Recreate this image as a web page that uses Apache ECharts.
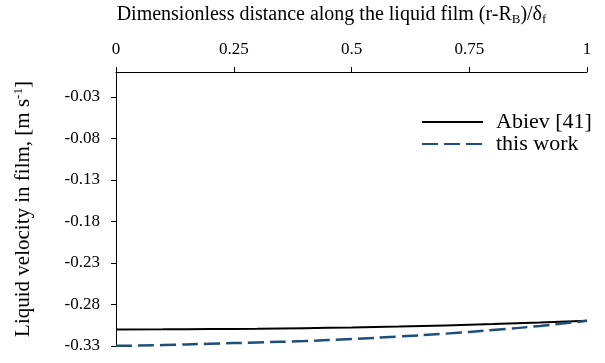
<!DOCTYPE html>
<html>
<head>
<meta charset="utf-8">
<script src="https://cdn.jsdelivr.net/npm/echarts@6/dist/echarts.min.js"></script>
<style>
  html, body { margin: 0; padding: 0; background: #fff; }
  #chart { width: 605px; height: 363px; }
</style>
</head>
<body>
<div id="chart"></div>
<script>
// Dimensionless position across the film, (r - R_B)/delta_f
const positions = [0, 0.1, 0.2, 0.3, 0.4, 0.5, 0.6, 0.7, 0.8, 0.9, 1.0];
// Liquid velocity in the film [m/s]
const abievVelocity = [-0.3100, -0.3099, -0.3096, -0.3092, -0.3085, -0.3077, -0.3066, -0.3052, -0.3036, -0.3017, -0.2996];
const thisWorkVelocity = [-0.3298, -0.3289, -0.3273, -0.3257, -0.3240, -0.3216, -0.3186, -0.3151, -0.3108, -0.3058, -0.2996];
// Velocity tick labels
const yTicks = [-0.33, -0.28, -0.23, -0.18, -0.13, -0.08, -0.03];
const xTicks = [0, 0.25, 0.5, 0.75, 1];

const serif = '"Liberation Serif", "DejaVu Serif", serif';
const chart = echarts.init(document.getElementById('chart'), null, { renderer: 'canvas' });

chart.setOption({
  animation: false,
  backgroundColor: '#ffffff',
  grid: { left: 116, right: 18, top: 71, bottom: 17, containLabel: false },
  legend: {
    orient: 'vertical',
    left: 421,
    top: 111,
    itemWidth: 61,
    itemHeight: 14,
    itemGap: 0,
    padding: 0,
    itemStyle: { opacity: 0 },
    textStyle: { fontFamily: serif, fontSize: 22, lineHeight: 21, color: '#000', padding: [0, 0, 0, 8] },
    data: ['Abiev [41]', 'this work']
  },
  xAxis: {
    type: 'value',
    position: 'top',
    min: 0,
    max: 1,
    name: '{t|Dimensionless distance along the liquid film (r-R}{s|B}{t|)/δ}{s|f}',
    nameLocation: 'middle',
    nameGap: 46,
    nameTextStyle: {
      padding: [0, 40, 0, 0],
      rich: {
        t: { fontFamily: serif, fontSize: 20, color: '#000' },
        s: { fontFamily: serif, fontSize: 13, color: '#000', verticalAlign: 'bottom', padding: [9, 0, 0, 0] }
      }
    },
    axisLine: { show: true, lineStyle: { color: '#000', width: 1 } },
    axisTick: { show: true, length: 5, customValues: xTicks, lineStyle: { color: '#000' } },
    axisLabel: {
      customValues: xTicks,
      margin: 14,
      fontFamily: serif,
      fontSize: 17,
      color: '#000',
      formatter: v => String(v)
    },
    splitLine: { show: false }
  },
  yAxis: {
    type: 'value',
    min: -0.33,
    max: 0,
    name: '{t|Liquid velocity in film, [m s}{p|-1}{t|]}',
    nameLocation: 'middle',
    nameGap: 82,
    nameRotate: 90,
    nameTextStyle: {
      rich: {
        t: { fontFamily: serif, fontSize: 21, color: '#000' },
        p: { fontFamily: serif, fontSize: 13, color: '#000', verticalAlign: 'top', padding: [0, 0, 9, 0] }
      }
    },
    axisLine: { show: true, onZero: false, lineStyle: { color: '#000', width: 1 } },
    axisTick: { show: true, length: 5, customValues: yTicks, lineStyle: { color: '#000' } },
    axisLabel: {
      customValues: yTicks,
      margin: 16,
      fontFamily: serif,
      fontSize: 17,
      color: '#000',
      formatter: v => v.toFixed(2)
    },
    splitLine: { show: false }
  },
  series: [
    {
      name: 'Abiev [41]',
      type: 'line',
      symbol: 'none',
      smooth: true,
      data: positions.map((x, i) => [x, abievVelocity[i]]),
      lineStyle: { color: '#000000', width: 2 },
      itemStyle: { color: '#000000' }
    },
    {
      name: 'this work',
      type: 'line',
      symbol: 'none',
      smooth: true,
      data: positions.map((x, i) => [x, thisWorkVelocity[i]]),
      lineStyle: { color: '#1f4e79', width: 2.5, type: [16, 6] },
      itemStyle: { color: '#1f4e79' }
    }
  ]
});
</script>
</body>
</html>
